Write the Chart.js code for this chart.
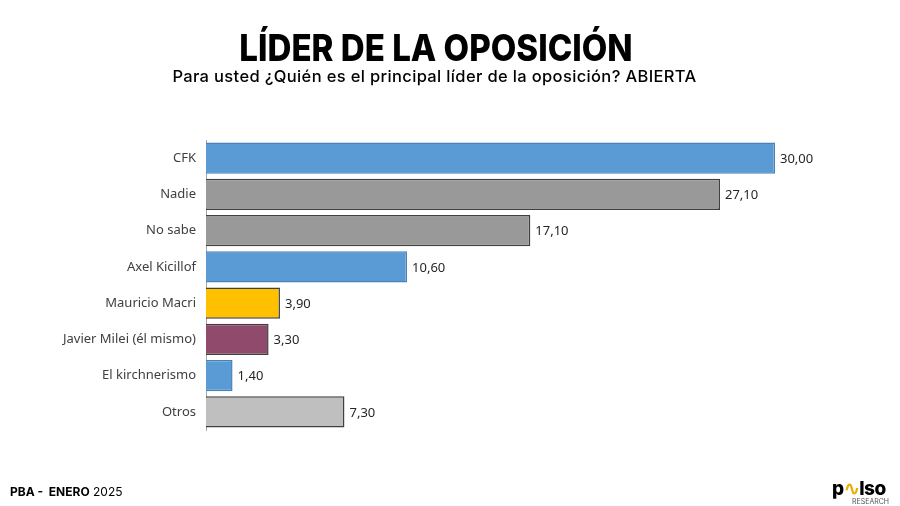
<!DOCTYPE html>
<html>
<head>
<meta charset="utf-8">
<script src="https://cdn.jsdelivr.net/npm/chart.js@4.4.1/dist/chart.umd.min.js"></script>
<style>
  html, body { margin: 0; padding: 0; background: #fff; }
  #wrap { position: relative; width: 900px; height: 506px; overflow: hidden; }
  #c { position: absolute; left: 0; top: 0; }
  .t { position: absolute; white-space: nowrap; color: #000; }
  #title { left: 0; width: 872px; top: 25px; text-align: center; font-family: Inter, "Open Sans", sans-serif; font-weight: 800; font-size: 37px; transform: scaleX(0.895); transform-origin: 436px 0; }
  #sub { left: 0; width: 869px; top: 66px; text-align: center; font-family: Inter, "Open Sans", sans-serif; font-weight: 500; font-size: 16.5px; letter-spacing: 0.35px; }
  #foot { left: 10px; top: 484px; font-family: Inter, sans-serif; font-size: 12px; }
  #logo { left: 832px; top: 480px; font-family: Inter, sans-serif; }
</style>
</head>
<body>
<div id="wrap">
  <canvas id="c" width="900" height="506"></canvas>
  <div class="t" id="title">LÍDER DE LA OPOSICIÓN</div>
  <div class="t" id="sub">Para usted ¿Quién es el principal líder de la oposición? ABIERTA</div>
  <div class="t" id="foot"><b>PBA -&nbsp; ENERO</b> 2025</div>
  <div class="t" id="logo"><div style="font-weight:800;font-size:19px;line-height:18px;letter-spacing:-0.5px">p<span style="color:#e8b000">∿</span>lso</div><div style="font-size:7px;color:#555;margin-left:20px;line-height:8px">RESEARCH</div></div>
</div>
<script>
const categories = ["CFK", "Nadie", "No sabe", "Axel Kicillof", "Mauricio Macri", "Javier Milei (él mismo)", "El kirchnerismo", "Otros"];
const values = [30.00, 27.10, 17.10, 10.60, 3.90, 3.30, 1.40, 7.30];
const barColors = ["#5B9BD5", "#999999", "#999999", "#5B9BD5", "#FFC000", "#904A6B", "#5B9BD5", "#BFBFBF"];
const borderColors = ["#4A82B8", "#404040", "#404040", "#4A82B8", "#404040", "#404040", "#4A82B8", "#404040"];

const labelPlugin = {
  id: "valLabels",
  afterDatasetsDraw(chart) {
    const ctx = chart.ctx;
    const meta = chart.getDatasetMeta(0);
    ctx.save();
    ctx.font = "13px 'Noto Sans', sans-serif";
    ctx.fillStyle = "#262626";
    ctx.textBaseline = "middle";
    ctx.textAlign = "left";
    meta.data.forEach((bar, i) => {
      const txt = values[i].toFixed(2).replace(".", ",");
      ctx.fillText(txt, bar.x + 5, bar.y + 1);
    });
    ctx.restore();
  }
};

new Chart(document.getElementById("c"), {
  type: "bar",
  data: {
    labels: categories,
    datasets: [{
      data: values,
      backgroundColor: barColors,
      borderColor: borderColors,
      borderWidth: 1.5,
      barPercentage: 0.86,
      categoryPercentage: 1.0
    }]
  },
  options: {
    indexAxis: "y",
    responsive: false,
    animation: false,
    layout: { padding: { top: 140, bottom: 76, left: 0, right: 125 } },
    plugins: { legend: { display: false }, tooltip: { enabled: false }, title: { display: false } },
    scales: {
      x: { display: false, min: 0, max: 30 },
      y: {
        afterFit(scale) { scale.width = 206; },
        grid: { display: false, drawTicks: false },
        border: { display: true, color: "#A6A6A6", width: 1 },
        ticks: { color: "#404040", font: { family: "'Noto Sans', sans-serif", size: 13 }, padding: 10 }
      }
    }
  },
  plugins: [labelPlugin]
});
</script>
</body>
</html>
